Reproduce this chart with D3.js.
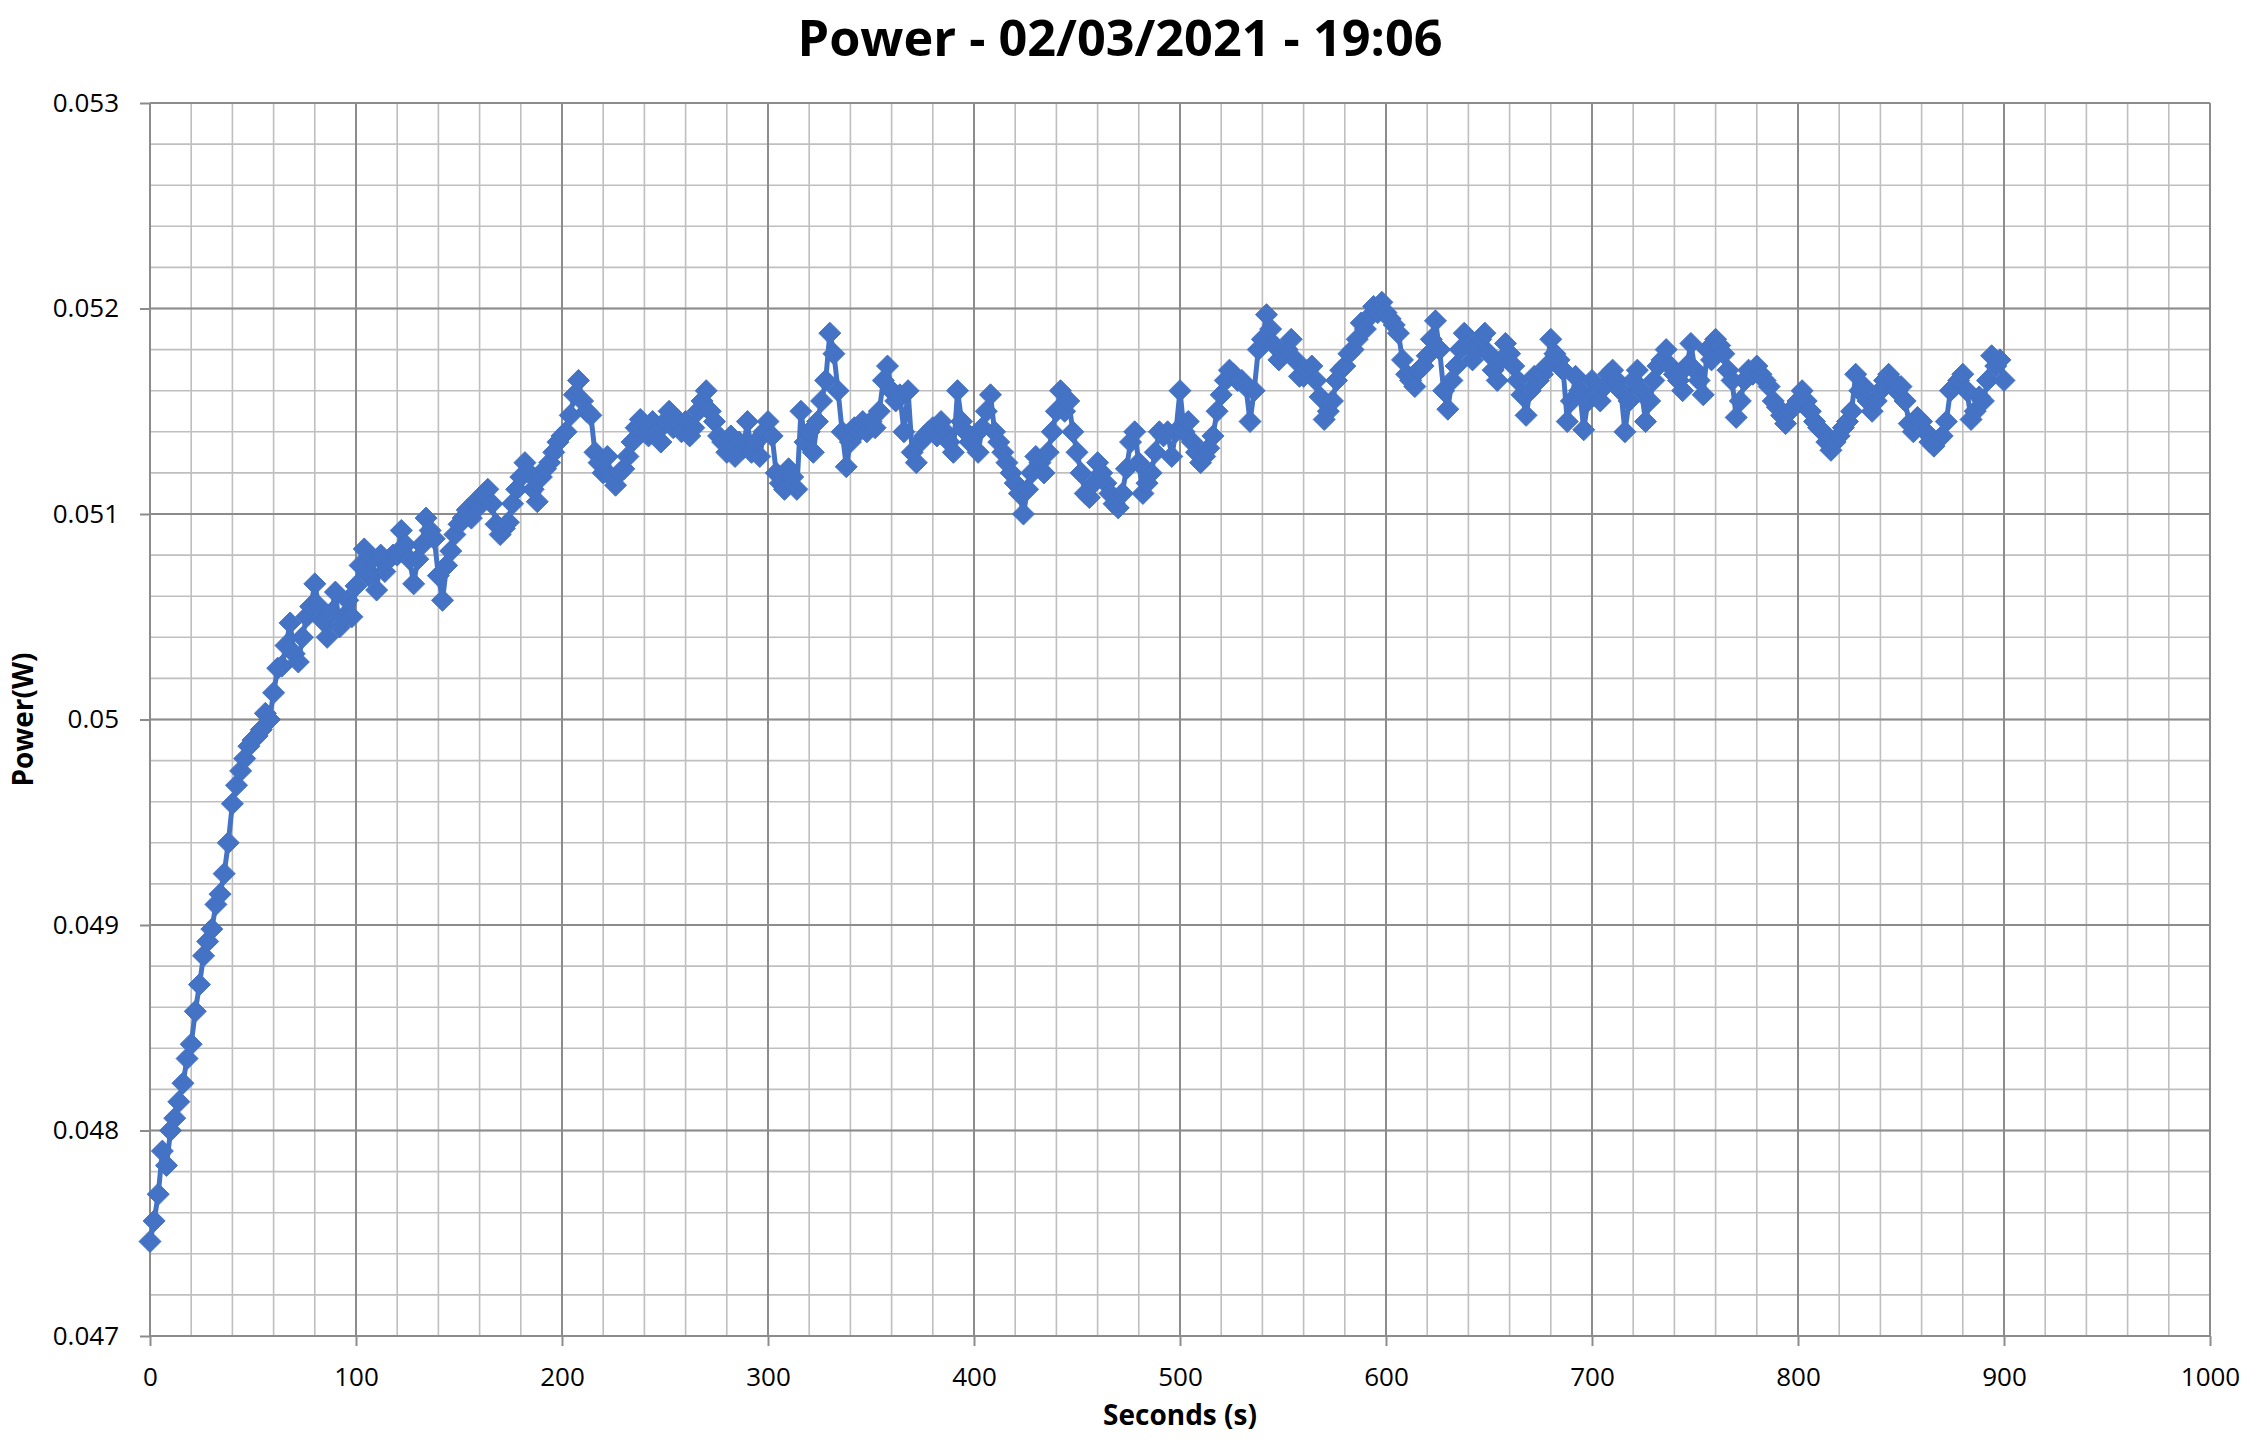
<!DOCTYPE html>
<html>
<head>
<meta charset="utf-8">
<script src="https://cdn.jsdelivr.net/npm/d3@7"></script>
<style>
  body { margin: 0; background: #fff; }
  svg { display: block; font-family: "Open Sans", "Noto Sans", sans-serif; }
</style>
</head>
<body>
<svg id="chart" width="2248" height="1447"></svg>
<script>
// chart texts
const chartTitle = "Power - 02/03/2021 - 19:06";
const xTitle = "Seconds (s)";
const yTitle = "Power(W)";

// axis ticks
const xMajorTicks = [0, 100, 200, 300, 400, 500, 600, 700, 800, 900, 1000];
const yMajorTicks = [0.047, 0.048, 0.049, 0.05, 0.051, 0.052, 0.053];

// time of each sample, seconds
const seconds = [
  0, 2, 4, 6, 8, 10, 12, 14, 16, 18,
  20, 22, 24, 26, 28, 30, 32, 34, 36, 38,
  40, 42, 44, 46, 48, 50, 52, 54, 56, 58,
  60, 62, 64, 66, 68, 70, 72, 74, 76, 78,
  80, 82, 84, 86, 88, 90, 92, 94, 96, 98,
  100, 102, 104, 106, 108, 110, 112, 114, 116, 118,
  120, 122, 124, 126, 128, 130, 132, 134, 136, 138,
  140, 142, 144, 146, 148, 150, 152, 154, 156, 158,
  160, 162, 164, 166, 168, 170, 172, 174, 176, 178,
  180, 182, 184, 186, 188, 190, 192, 194, 196, 198,
  200, 202, 204, 206, 208, 210, 212, 214, 216, 218,
  220, 222, 224, 226, 228, 230, 232, 234, 236, 238,
  240, 242, 244, 246, 248, 250, 252, 254, 256, 258,
  260, 262, 264, 266, 268, 270, 272, 274, 276, 278,
  280, 282, 284, 286, 288, 290, 292, 294, 296, 298,
  300, 302, 304, 306, 308, 310, 312, 314, 316, 318,
  320, 322, 324, 326, 328, 330, 332, 334, 336, 338,
  340, 342, 344, 346, 348, 350, 352, 354, 356, 358,
  360, 362, 364, 366, 368, 370, 372, 374, 376, 378,
  380, 382, 384, 386, 388, 390, 392, 394, 396, 398,
  400, 402, 404, 406, 408, 410, 412, 414, 416, 418,
  420, 422, 424, 426, 428, 430, 432, 434, 436, 438,
  440, 442, 444, 446, 448, 450, 452, 454, 456, 458,
  460, 462, 464, 466, 468, 470, 472, 474, 476, 478,
  480, 482, 484, 486, 488, 490, 492, 494, 496, 498,
  500, 502, 504, 506, 508, 510, 512, 514, 516, 518,
  520, 522, 524, 526, 528, 530, 532, 534, 536, 538,
  540, 542, 544, 546, 548, 550, 552, 554, 556, 558,
  560, 562, 564, 566, 568, 570, 572, 574, 576, 578,
  580, 582, 584, 586, 588, 590, 592, 594, 596, 598,
  600, 602, 604, 606, 608, 610, 612, 614, 616, 618,
  620, 622, 624, 626, 628, 630, 632, 634, 636, 638,
  640, 642, 644, 646, 648, 650, 652, 654, 656, 658,
  660, 662, 664, 666, 668, 670, 672, 674, 676, 678,
  680, 682, 684, 686, 688, 690, 692, 694, 696, 698,
  700, 702, 704, 706, 708, 710, 712, 714, 716, 718,
  720, 722, 724, 726, 728, 730, 732, 734, 736, 738,
  740, 742, 744, 746, 748, 750, 752, 754, 756, 758,
  760, 762, 764, 766, 768, 770, 772, 774, 776, 778,
  780, 782, 784, 786, 788, 790, 792, 794, 796, 798,
  800, 802, 804, 806, 808, 810, 812, 814, 816, 818,
  820, 822, 824, 826, 828, 830, 832, 834, 836, 838,
  840, 842, 844, 846, 848, 850, 852, 854, 856, 858,
  860, 862, 864, 866, 868, 870, 872, 874, 876, 878,
  880, 882, 884, 886, 888, 890, 892, 894, 896, 898,
  900
];

const power = [
  0.04746, 0.04756, 0.04769, 0.04790, 0.04783, 0.04800, 0.04806, 0.04814, 0.04823, 0.04835,
  0.04842, 0.04858, 0.04871, 0.04885, 0.04892, 0.04898, 0.04910, 0.04915, 0.04925, 0.04940,
  0.04959, 0.04968, 0.04975, 0.04981, 0.04987, 0.04990, 0.04992, 0.04995, 0.05003, 0.05000,
  0.05013, 0.05025, 0.05026, 0.05036, 0.05047, 0.05032, 0.05028, 0.05040, 0.05050, 0.05055,
  0.05066, 0.05055, 0.05048, 0.05040, 0.05052, 0.05062, 0.05045, 0.05050, 0.05058, 0.05050,
  0.05065, 0.05075, 0.05083, 0.05070, 0.05078, 0.05063, 0.05080, 0.05072, 0.05078, 0.05080,
  0.05080, 0.05092, 0.05085, 0.05078, 0.05066, 0.05078, 0.05085, 0.05098, 0.05092, 0.05088,
  0.05070, 0.05058, 0.05075, 0.05082, 0.05090, 0.05095, 0.05098, 0.05102, 0.05098, 0.05106,
  0.05104, 0.05110, 0.05112, 0.05105, 0.05095, 0.05090, 0.05093, 0.05096, 0.05105, 0.05112,
  0.05118, 0.05125, 0.05120, 0.05112, 0.05106, 0.05118, 0.05122, 0.05125, 0.05130, 0.05135,
  0.05138, 0.05140, 0.05148, 0.05158, 0.05165, 0.05155, 0.05150, 0.05148, 0.05130, 0.05125,
  0.05120, 0.05128, 0.05118, 0.05114, 0.05120, 0.05122, 0.05128, 0.05135, 0.05142, 0.05146,
  0.05140, 0.05138, 0.05145, 0.05140, 0.05135, 0.05145, 0.05150, 0.05142, 0.05146, 0.05140,
  0.05145, 0.05138, 0.05142, 0.05150, 0.05155, 0.05160, 0.05150, 0.05145, 0.05138, 0.05135,
  0.05130, 0.05138, 0.05128, 0.05135, 0.05132, 0.05145, 0.05130, 0.05135, 0.05128, 0.05140,
  0.05145, 0.05138, 0.05120, 0.05115, 0.05112, 0.05122, 0.05118, 0.05112, 0.05150, 0.05135,
  0.05140, 0.05130, 0.05145, 0.05155, 0.05165, 0.05188, 0.05178, 0.05160, 0.05140, 0.05123,
  0.05135, 0.05142, 0.05140, 0.05145, 0.05140, 0.05145, 0.05142, 0.05150, 0.05165, 0.05172,
  0.05160, 0.05155, 0.05158, 0.05140, 0.05160, 0.05130, 0.05125, 0.05135, 0.05138, 0.05140,
  0.05142, 0.05138, 0.05145, 0.05140, 0.05135, 0.05130, 0.05160, 0.05145, 0.05140, 0.05135,
  0.05138, 0.05130, 0.05142, 0.05150, 0.05158, 0.05140, 0.05135, 0.05130, 0.05125, 0.05120,
  0.05115, 0.05110, 0.05100, 0.05112, 0.05120, 0.05128, 0.05125, 0.05120, 0.05130, 0.05140,
  0.05150, 0.05160, 0.05150, 0.05155, 0.05140, 0.05130, 0.05120, 0.05110, 0.05108, 0.05115,
  0.05125, 0.05120, 0.05115, 0.05110, 0.05105, 0.05103, 0.05110, 0.05122, 0.05135, 0.05140,
  0.05125, 0.05110, 0.05115, 0.05120, 0.05130, 0.05140, 0.05138, 0.05140, 0.05128, 0.05140,
  0.05160, 0.05140, 0.05145, 0.05135, 0.05130, 0.05125, 0.05128, 0.05132, 0.05138, 0.05150,
  0.05158, 0.05165, 0.05170, 0.05168, 0.05165, 0.05165, 0.05162, 0.05145, 0.05160, 0.05180,
  0.05185, 0.05197, 0.05190, 0.05182, 0.05175, 0.05178, 0.05180, 0.05185, 0.05175, 0.05167,
  0.05167, 0.05170, 0.05172, 0.05165, 0.05157, 0.05146, 0.05150, 0.05155, 0.05165, 0.05170,
  0.05172, 0.05178, 0.05180, 0.05185, 0.05193, 0.05190, 0.05196, 0.05201, 0.05198, 0.05203,
  0.05198, 0.05195, 0.05192, 0.05188, 0.05175, 0.05168, 0.05165, 0.05162, 0.05170, 0.05172,
  0.05177, 0.05185, 0.05194, 0.05180, 0.05160, 0.05151, 0.05165, 0.05172, 0.05180, 0.05188,
  0.05182, 0.05175, 0.05180, 0.05185, 0.05188, 0.05178, 0.05170, 0.05165, 0.05175, 0.05183,
  0.05178, 0.05172, 0.05165, 0.05158, 0.05148, 0.05160, 0.05167, 0.05165, 0.05168, 0.05172,
  0.05185, 0.05178, 0.05175, 0.05170, 0.05145, 0.05155, 0.05167, 0.05160, 0.05141, 0.05155,
  0.05165, 0.05158, 0.05155, 0.05162, 0.05168, 0.05170, 0.05165, 0.05160, 0.05140, 0.05155,
  0.05165, 0.05170, 0.05160, 0.05145, 0.05155, 0.05165, 0.05172, 0.05175, 0.05180, 0.05172,
  0.05168, 0.05165, 0.05160, 0.05172, 0.05183, 0.05170, 0.05165, 0.05158, 0.05180, 0.05175,
  0.05185, 0.05182, 0.05178, 0.05170, 0.05165, 0.05147, 0.05155, 0.05165, 0.05170, 0.05168,
  0.05172, 0.05168, 0.05165, 0.05162, 0.05155, 0.05152, 0.05148, 0.05144, 0.05150, 0.05152,
  0.05155, 0.05160, 0.05155, 0.05150, 0.05145, 0.05142, 0.05140, 0.05135, 0.05131, 0.05135,
  0.05138, 0.05142, 0.05145, 0.05150, 0.05168, 0.05160, 0.05162, 0.05155, 0.05150, 0.05155,
  0.05160, 0.05165, 0.05168, 0.05165, 0.05160, 0.05162, 0.05155, 0.05144, 0.05140, 0.05147,
  0.05145, 0.05140, 0.05135, 0.05133, 0.05136, 0.05138, 0.05145, 0.05160, 0.05162, 0.05165,
  0.05168, 0.05160, 0.05146, 0.05150, 0.05157, 0.05155, 0.05165, 0.05177, 0.05172, 0.05175,
  0.05165
];

const points = seconds.map((s, i) => ({ s: s, p: power[i] }));

const svg = d3.select("#chart");
const W = 2248, H = 1447;
const plot = { left: 150, right: 2210, top: 103, bottom: 1336 };
const blue = "#4472C4";

svg.append("rect").attr("width", W).attr("height", H).attr("fill", "#fff");

const x = d3.scaleLinear().domain([0, 1000]).range([plot.left, plot.right]);
const y = d3.scaleLinear().domain([0.047, 0.053]).range([plot.bottom, plot.top]);

// minor grid first, majors on top
const grid = svg.append("g");
grid.selectAll(".vminor").data(x.ticks(50)).join("line")
  .attr("x1", d => x(d)).attr("x2", d => x(d))
  .attr("y1", plot.top).attr("y2", plot.bottom)
  .attr("stroke", "#bfbfbf").attr("stroke-width", 1.6);
grid.selectAll(".hminor").data(y.ticks(30)).join("line")
  .attr("y1", d => y(d)).attr("y2", d => y(d))
  .attr("x1", plot.left).attr("x2", plot.right)
  .attr("stroke", "#bfbfbf").attr("stroke-width", 1.6);
grid.selectAll(".vmajor").data(xMajorTicks).join("line")
  .attr("x1", d => x(d)).attr("x2", d => x(d))
  .attr("y1", plot.top).attr("y2", plot.bottom)
  .attr("stroke", "#8c8c8c").attr("stroke-width", 2);
grid.selectAll(".hmajor").data(yMajorTicks).join("line")
  .attr("y1", d => y(d)).attr("y2", d => y(d))
  .attr("x1", plot.left).attr("x2", plot.right)
  .attr("stroke", "#8c8c8c").attr("stroke-width", 2);

// axes (ticks + labels only, the grid gives the lines)
const fmt = d => String(+d.toFixed(3));

const xAxis = svg.append("g")
  .attr("transform", `translate(0,${plot.bottom})`)
  .call(d3.axisBottom(x).tickValues(xMajorTicks).tickSize(10).tickPadding(22).tickFormat(d => d));
const yAxis = svg.append("g")
  .attr("transform", `translate(${plot.left},0)`)
  .call(d3.axisLeft(y).tickValues(yMajorTicks).tickSize(10).tickPadding(21).tickFormat(fmt));

[xAxis, yAxis].forEach(g => {
  g.select(".domain").remove();
  g.selectAll(".tick line").attr("stroke", "#8c8c8c").attr("stroke-width", 2);
  g.selectAll(".tick text")
    .attr("fill", "#000")
    .style("font-size", "26px")
    .style("font-family", "'Open Sans', sans-serif");
});

// series: line then diamond markers
const line = d3.line().x(d => x(d.s)).y(d => y(d.p));
svg.append("path")
  .datum(points)
  .attr("d", line)
  .attr("fill", "none")
  .attr("stroke", blue)
  .attr("stroke-width", 5)
  .attr("stroke-linejoin", "round");

const diamond = "M0,-11L11,0L0,11L-11,0Z";
svg.append("g").selectAll("path").data(points).join("path")
  .attr("d", diamond)
  .attr("transform", d => `translate(${x(d.s)},${y(d.p)})`)
  .attr("fill", blue)
  .attr("stroke", blue)
  .attr("stroke-width", 1);

// titles
svg.append("text")
  .attr("x", 1120).attr("y", 56)
  .attr("text-anchor", "middle")
  .attr("textLength", 645)
  .attr("lengthAdjust", "spacingAndGlyphs")
  .style("font-size", "50px")
  .style("font-weight", "bold")
  .text(chartTitle);

svg.append("text")
  .attr("x", 1180).attr("y", 1425)
  .attr("text-anchor", "middle")
  .style("font-size", "28px")
  .style("font-weight", "bold")
  .text(xTitle);

svg.append("text")
  .attr("transform", `translate(33,${(plot.top + plot.bottom) / 2}) rotate(-90)`)
  .attr("text-anchor", "middle")
  .style("font-size", "28px")
  .style("font-weight", "bold")
  .text(yTitle);
</script>
</body>
</html>
